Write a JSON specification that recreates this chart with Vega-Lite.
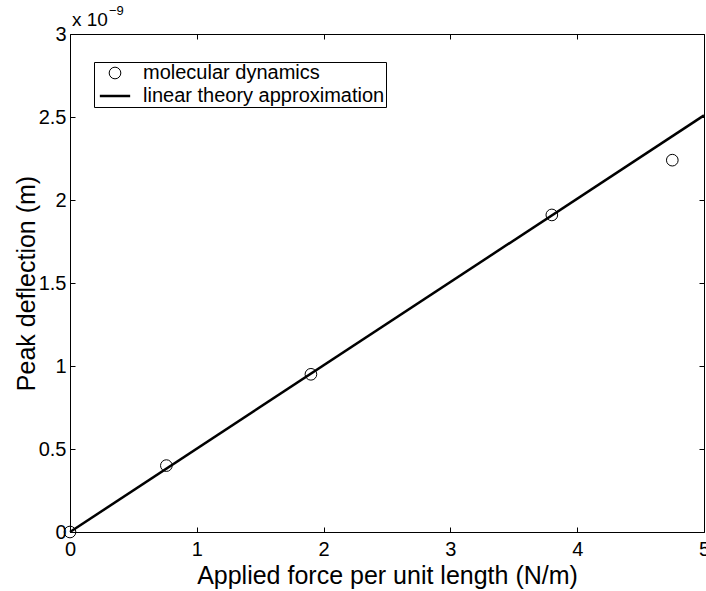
{
  "$schema": "https://vega.github.io/schema/vega-lite/v6.json",
  "width": 634,
  "height": 498,
  "autosize": {"type": "none"},
  "padding": {"left": 70, "top": 34, "right": 2, "bottom": 59},
  "background": "white",
  "config": {
    "font": "Liberation Sans",
    "view": {"stroke": null},
    "axis": {
      "grid": false,
      "domainColor": "black",
      "domainWidth": 1,
      "tickColor": "black",
      "tickWidth": 1,
      "tickSize": -5,
      "labelColor": "black",
      "labelFontSize": 20,
      "labelFlush": false,
      "labelOverlap": false,
      "titleColor": "black",
      "titleFontSize": 25,
      "titleFontWeight": "normal"
    }
  },
  "datasets": {
    "md": [
      {"force": 0, "deflection_nm": 0, "series": "molecular dynamics"},
      {"force": 0.76, "deflection_nm": 0.40, "series": "molecular dynamics"},
      {"force": 1.9, "deflection_nm": 0.95, "series": "molecular dynamics"},
      {"force": 3.8, "deflection_nm": 1.91, "series": "molecular dynamics"},
      {"force": 4.75, "deflection_nm": 2.24, "series": "molecular dynamics"}
    ],
    "fit": [
      {"force": 0, "deflection_nm": 0, "series": "linear theory approximation"},
      {"force": 5, "deflection_nm": 2.51, "series": "linear theory approximation"}
    ],
    "exp": [
      {"force": 0, "deflection_nm": 3, "label": "x 10", "sup": "−9"}
    ]
  },
  "layer": [
    {
      "data": {"name": "fit"},
      "mark": {"type": "line", "color": "black", "strokeWidth": 2.5},
      "encoding": {
        "x": {
          "field": "force", "type": "quantitative",
          "scale": {"domain": [0, 5], "nice": false, "zero": false},
          "axis": {
            "orient": "bottom", "values": [0, 1, 2, 3, 4, 5], "format": "d",
            "labelPadding": 12,
            "title": "Applied force per unit length (N/m)",
            "titleX": 317, "titleY": 51, "titleBaseline": "alphabetic", "titleAlign": "center"
          }
        },
        "y": {
          "field": "deflection_nm", "type": "quantitative",
          "scale": {"domain": [0, 3], "nice": false, "zero": false},
          "axis": {
            "orient": "left", "values": [0, 0.5, 1, 1.5, 2, 2.5, 3], "format": "~g",
            "labelPadding": 9,
            "title": "Peak deflection (m)",
            "titleX": -36, "titleY": 249, "titleBaseline": "alphabetic", "titleAlign": "center", "titleAngle": -90
          }
        }
      }
    },
    {
      "data": {"name": "md"},
      "mark": {"type": "point", "filled": false, "color": "black", "size": 136, "opacity": 1},
      "encoding": {
        "x": {
          "field": "force", "type": "quantitative",
          "scale": {"domain": [0, 5], "nice": false, "zero": false},
          "axis": {"orient": "top", "values": [0, 1, 2, 3, 4, 5], "labels": false, "title": null}
        },
        "y": {
          "field": "deflection_nm", "type": "quantitative",
          "scale": {"domain": [0, 3], "nice": false, "zero": false},
          "axis": {"orient": "right", "values": [0, 0.5, 1, 1.5, 2, 2.5, 3], "labels": false, "title": null}
        },
        "shape": {
          "field": "series", "type": "nominal",
          "scale": {"domain": ["molecular dynamics", "linear theory approximation"], "range": ["circle", "M-2.6,0H2.6"]},
          "legend": {
            "title": null,
            "orient": "none",
            "legendX": 24,
            "legendY": 28,
            "strokeColor": "black",
            "fillColor": "white",
            "padding": 1,
            "symbolOffset": 10,
            "symbolSize": 136,
            "symbolStrokeColor": "black",
            "symbolFillColor": "transparent",
            "labelFontSize": 20,
            "labelColor": "black",
            "labelOffset": 18,
            "rowPadding": 3,
            "labelLimit": 400
          }
        },
        "strokeWidth": {
          "field": "series", "type": "nominal",
          "scale": {"domain": ["molecular dynamics", "linear theory approximation"], "range": [1, 2.5]},
          "legend": {
            "title": null,
            "orient": "none",
            "legendX": 24,
            "legendY": 28
          }
        }
      }
    },
    {
      "data": {"name": "exp"},
      "mark": {"type": "text", "align": "left", "baseline": "alphabetic", "dx": 2, "dy": -8, "fontSize": 19, "color": "black"},
      "encoding": {
        "x": {"field": "force", "type": "quantitative", "axis": null},
        "y": {"field": "deflection_nm", "type": "quantitative", "axis": null},
        "text": {"field": "label"}
      }
    },
    {
      "data": {"name": "exp"},
      "mark": {"type": "text", "align": "left", "baseline": "alphabetic", "dx": 39, "dy": -19, "fontSize": 13, "color": "black"},
      "encoding": {
        "x": {"field": "force", "type": "quantitative", "axis": null},
        "y": {"field": "deflection_nm", "type": "quantitative", "axis": null},
        "text": {"field": "sup"}
      }
    }
  ],
  "resolve": {"axis": {"x": "independent", "y": "independent"}}
}
